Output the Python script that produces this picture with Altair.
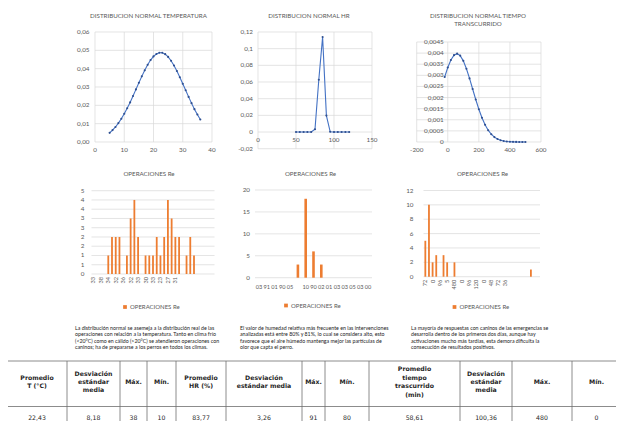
import altair as alt
import pandas as pd

# ------------------------------------------------------------------ data
temp_x = [5, 6, 7, 8, 9, 10, 11, 12, 13, 14, 15, 16, 17, 18, 19, 20,
          21, 22, 23, 24, 25, 26, 27, 28, 29, 30, 31, 32, 33, 34, 35, 36]
temp_y = [0.0050, 0.0065, 0.0082, 0.0103, 0.0127, 0.0154, 0.0184, 0.0216,
          0.0251, 0.0287, 0.0323, 0.0358, 0.0391, 0.0421, 0.0447, 0.0467,
          0.0480, 0.0487, 0.0487, 0.0479, 0.0464, 0.0443, 0.0417, 0.0387,
          0.0353, 0.0318, 0.0282, 0.0246, 0.0212, 0.0179, 0.0150, 0.0123]
temp_xticks = [0, 10, 20, 30, 40]
temp_xlabels = ["0", "10", "20", "30", "40"]
temp_yticks = [0, 0.01, 0.02, 0.03, 0.04, 0.05, 0.06]
temp_ylabels = ["0,00", "0,01", "0,02", "0,03", "0,04", "0,05", "0,06"]

hr_x = [50, 55, 60, 65, 70, 75, 80, 85, 90, 95, 100, 105, 110, 115, 120]
hr_y = [0.0, 0.0, 0.0, 0.0, 0.00002, 0.0033, 0.0627, 0.1140, 0.0197,
        0.0003, 0.0, 0.0, 0.0, 0.0, 0.0]
hr_xticks = [0, 50, 100, 150]
hr_xlabels = ["0", "50", "100", "150"]
hr_yticks = [-0.02, 0, 0.02, 0.04, 0.06, 0.08, 0.1, 0.12]
hr_ylabels = ["-0,02", "0", "0,02", "0,04", "0,06", "0,08", "0,1", "0,12"]

time_x = [-20, 0, 20, 40, 60, 80, 100, 120, 140, 160, 180, 200, 220, 240,
          260, 280, 300, 320, 340, 360, 380, 400, 420, 440, 460, 480, 500]
time_y = [0.002925, 0.003352, 0.003692, 0.003907, 0.003975, 0.003886,
          0.003651, 0.003297, 0.002861, 0.002386, 0.001913, 0.001473,
          0.001091, 0.000776, 0.000531, 0.000349, 0.000220, 0.000134,
          0.000078, 0.0000437, 0.0000236, 0.0000122, 0.0000061, 0.0000029,
          0.0000013, 0.0000006, 0.0000003]
time_xticks = [-200, 0, 200, 400, 600]
time_xlabels = ["-200", "0", "200", "400", "600"]
time_yticks = [0, 0.0005, 0.001, 0.0015, 0.002, 0.0025, 0.003, 0.0035, 0.004, 0.0045]
time_ylabels = ["0", "0,0005", "0,001", "0,0015", "0,002", "0,0025", "0,003",
                "0,0035", "0,004", "0,0045"]

ops_temp = [0, 0, 0, 0, 1, 2, 2, 2, 0, 1, 3, 4, 2, 0, 1, 1, 1, 2, 1, 2, 4,
            3, 2, 2, 0, 1, 2, 1, 0, 0, 0, 0, 0]
ops_temp_slots = [0, 2, 4, 6, 8, 10, 12, 14, 16, 18, 20, 22]
ops_temp_labels = ["33", "38", "34", "32", "36", "32", "33", "30", "33",
                   "23", "27", "31"]
ops_temp_yticks = [0, 0.5, 1, 1.5, 2, 2.5, 3, 3.5, 4, 4.5]
ops_temp_ylabels = ["0", "1", "1", "2", "2", "3", "3", "4", "4", "5"]

ops_hr = [0, 0, 0, 0, 0, 3, 18, 6, 3, 0, 0, 0, 0, 0, 0]
ops_hr_slots = [0, 1, 2, 3, 4, 5, 6, 7, 8, 9, 10, 11, 12, 13, 14]
ops_hr_labels = ["03", "91", "01", "90", "05", "", "10", "90", "02", "01",
                 "03", "03", "05", "03", "00"]
ops_hr_yticks = [0, 5, 10, 15, 20]
ops_hr_ylabels = ["0", "5", "10", "15", "20"]

ops_time = [5, 10, 2, 3, 0, 3, 2, 0, 2, 0, 0, 0, 0, 0, 0, 0, 0, 0, 0, 0,
            0, 0, 0, 0, 0, 0, 0, 0, 0, 1, 0, 0]
ops_time_slots = [0, 2, 4, 6, 8, 10, 12, 14, 16, 18, 20, 22]
ops_time_labels = ["72", "0", "96", "5", "480", "0", "96", "120", "0",
                   "48", "72", "36"]
ops_time_yticks = [0, 2, 4, 6, 8, 10, 12]
ops_time_ylabels = ["0", "2", "4", "6", "8", "10", "12"]

series_name = "OPERACIONES Re"
chart_titles = ["DISTRIBUCION NORMAL TEMPERATURA", "DISTRIBUCION NORMAL HR",
                "DISTRIBUCION NORMAL TIEMPO\nTRANSCURRIDO"]

paragraphs = [
    "La distribución normal se asemeja a la distribución real de las\n"
    "operaciones con relación a la temperatura. Tanto en clima frío\n"
    "(<20°C) como en cálido (>20°C) se atendieron operaciones con\n"
    "caninos; ha de  prepararse a los perros en todos los climas.",
    "El valor de humedad relativa más frecuente en las intervenciones\n"
    "analizadas está entre 80% y 81%, lo cual se considera alto, esto\n"
    "favorece que el aire húmedo mantenga mejor las partículas de\n"
    "olor que capta el perro.",
    "La mayoría de respuestas con caninos de las emergencias se\n"
    "desarrolla dentro de los primeros dos días, aunque hay\n"
    "activaciones mucho más tardías, esta demora dificulta la\n"
    "consecución de resultados positivos.",
]

table_headers = ["Promedio\nT (°C)", "Desviación\nestándar\nmedia", "Máx.", "Mín.",
                 "Promedio\nHR (%)", "Desviación\nestándar media", "Máx.", "Mín.",
                 "Promedio\ntiempo\ntrascurrido\n(min)", "Desviación\nestándar\nmedia",
                 "Máx.", "Mín."]
table_values = ["22,43", "8,18", "38", "10", "83,77", "3,26", "91", "80",
                "58,61", "100,36", "480", "0"]

# ------------------------------------------------------------------ layout / style
W, H = 608, 413
M = 8


def P(v):
    return v - M


FONT = "Lato"
TFONT = "DejaVu Sans"
GRID = "#D9D9D9"
LBL = "#595959"
BLUE = "#4472C4"
DOT = "#2F4F8F"
ORANGE = "#ED7D31"
LSIZE = 6.3


def lin(domain, r0, r1):
    return alt.Scale(domain=domain, range=[P(r0), P(r1)], nice=False, zero=False)


def ylabels(ticks, labels, sx, sy, at, dx):
    df = pd.DataFrame({"v": ticks, "t": labels})
    return alt.Chart(df).mark_text(font=FONT, fontSize=LSIZE, color=LBL, align="right",
                                   baseline="middle", dx=-dx).encode(
        y=alt.Y("v:Q", scale=sy, axis=None),
        x=alt.XDatum(at, type="quantitative", scale=sx, axis=None),
        text="t:N")


def xlabels(ticks, labels, sx, sy, at, dy, angle=0, size=LSIZE):
    df = pd.DataFrame({"v": ticks, "t": labels})
    if angle:
        mk = alt.Chart(df).mark_text(font=FONT, fontSize=size, color=LBL, align="right",
                                     baseline="middle", angle=angle, dx=-dy)
    else:
        mk = alt.Chart(df).mark_text(font=FONT, fontSize=size, color=LBL, align="center",
                                     baseline="top", dy=dy)
    return mk.encode(
        x=alt.X("v:Q", scale=sx, axis=None),
        y=alt.YDatum(at, type="quantitative", scale=sy, axis=None),
        text="t:N")


def text(t, x, y, size=6.3, color=LBL, font=FONT, weight="normal", align="center",
         baseline="middle", lh=None):
    mk = dict(font=font, fontSize=size, color=color, fontWeight=weight, align=align,
              baseline=baseline)
    if lh:
        mk["lineHeight"] = lh
        mk["lineBreak"] = "\n"
    return alt.Chart(pd.DataFrame({"t": [t]})).mark_text(**mk).encode(
        text="t:N", x=alt.value(P(x)), y=alt.value(P(y)))


def scatter_panel(xs, ys, xdom, xr, ydom, yr, xticks, xlabs, yticks, ylabs,
                  yl_at, ypad, xl_at, xpad):
    sx = lin(xdom, *xr)
    sy = lin(ydom, *yr)
    df = pd.DataFrame({"x": xs, "y": ys})
    hgrid = alt.Chart(pd.DataFrame({"v": yticks})).mark_rule(
        color=GRID, strokeWidth=0.7).encode(
        y=alt.Y("v:Q", scale=sy, axis=None),
        x=alt.XDatum(xdom[0], type="quantitative", scale=sx, axis=None),
        x2=alt.X2Datum(xdom[1]))
    vgrid = alt.Chart(pd.DataFrame({"v": xticks})).mark_rule(
        color=GRID, strokeWidth=0.7).encode(
        x=alt.X("v:Q", scale=sx, axis=None),
        y=alt.YDatum(ydom[0], type="quantitative", scale=sy, axis=None),
        y2=alt.Y2Datum(ydom[1]))
    line = alt.Chart(df).mark_line(color=BLUE, strokeWidth=1.1).encode(
        x=alt.X("x:Q", scale=sx, axis=None),
        y=alt.Y("y:Q", scale=sy, axis=None))
    pts = alt.Chart(df).mark_circle(color=DOT, size=4.5, opacity=1).encode(
        x=alt.X("x:Q", scale=sx, axis=None),
        y=alt.Y("y:Q", scale=sy, axis=None))
    return alt.layer(hgrid, vgrid, line, pts,
                     ylabels(yticks, ylabs, sx, sy, yl_at, ypad),
                     xlabels(xticks, xlabs, sx, sy, xl_at, xpad))


def bar_panel(vals, n, xr, ydom, yr, yticks, ylabs, ypad, lab_slots, labs,
              xpad, angle, bw, leg_x, leg_y):
    sx = lin([-0.5, n - 0.5], *xr)
    sy = lin(ydom, *yr)
    df = pd.DataFrame({"slot": list(range(n)), "v": vals, "serie": series_name})
    hgrid = alt.Chart(pd.DataFrame({"v": yticks})).mark_rule(
        color=GRID, strokeWidth=0.7).encode(
        y=alt.Y("v:Q", scale=sy, axis=None),
        x=alt.XDatum(-0.5, type="quantitative", scale=sx, axis=None),
        x2=alt.X2Datum(n - 0.5))
    bars = alt.Chart(df).mark_bar(size=bw).encode(
        x=alt.X("slot:Q", scale=sx, axis=None),
        y=alt.Y("v:Q", scale=sy, stack=None, axis=None),
        y2=alt.Y2Datum(0),
        color=alt.Color("serie:N", scale=alt.Scale(range=[ORANGE]),
                        legend=alt.Legend(orient="none", legendX=P(leg_x), legendY=P(leg_y),
                                          title=None, direction="horizontal",
                                          symbolType="square", symbolSize=14,
                                          symbolStrokeWidth=0, labelFont=FONT,
                                          labelFontSize=6, labelColor=LBL, padding=0,
                                          labelOffset=2)))
    return alt.layer(hgrid, bars,
                     ylabels(yticks, ylabs, sx, sy, -0.5, ypad),
                     xlabels(lab_slots, labs, sx, sy, ydom[0], xpad, angle, 5.6))


# ------------------------------------------------------------------ panels
p1 = scatter_panel(temp_x, temp_y, [0, 40], (95, 212), [0, 0.06], (142, 32),
                   temp_xticks, temp_xlabels, temp_yticks, temp_ylabels,
                   0, 5.5, 0, 5)
p2 = scatter_panel(hr_x, hr_y, [0, 150], (258, 372), [-0.02, 0.12], (148.7, 32),
                   hr_xticks, hr_xlabels, hr_yticks, hr_ylabels,
                   0, 5, 0, 5)
p3 = scatter_panel(time_x, time_y, [-200, 600], (416.7, 541), [0, 0.0045], (142, 42),
                   time_xticks, time_xlabels, time_yticks, time_ylabels,
                   0, 4, 0, 5)

b1 = bar_panel(ops_temp, 33, (86.5, 219.5), [0, 4.5], (274, 190.7),
               ops_temp_yticks, ops_temp_ylabels, 7,
               ops_temp_slots, ops_temp_labels, 3, 270, 1.8, 122, 304)
b2 = bar_panel(ops_hr, 15, (250, 377), [0, 20], (277.7, 190),
               ops_hr_yticks, ops_hr_ylabels, 5,
               ops_hr_slots, ops_hr_labels, 7, 0, 2.6, 283, 302.5)
b3 = bar_panel(ops_time, 32, (418.5, 545), [0, 12], (276.7, 190.5),
               ops_time_yticks, ops_time_ylabels, 10,
               ops_time_slots, ops_time_labels, 3, 270, 1.8, 451.5, 304)

# titles
titles = [
    text(chart_titles[0], 148.5, 15.7, size=6.2),
    text(chart_titles[1], 309, 15.5, size=6.2),
    text(chart_titles[2], 478, 16, size=6.2, lh=8),
    text(series_name, 149, 174, size=6.2),
    text(series_name, 310.5, 173.5, size=6.2),
    text(series_name, 482.5, 174, size=6.2),
]

PSIZE = 5.25
paras = [
    text(paragraphs[0], 75, 326, size=PSIZE, color="#222222", align="left", baseline="top", lh=6.4),
    text(paragraphs[1], 240, 326, size=PSIZE, color="#222222", align="left", baseline="top", lh=6.4),
    text(paragraphs[2], 411, 326, size=PSIZE, color="#222222", align="left", baseline="top", lh=6.4),
]

# table
edges = [7, 67, 120, 147, 176, 226, 302, 325, 369, 460, 512, 572, 621]
t_top, t_mid, t_bot = 361, 406.5, 425.5
HEAD_C, HEAD_LH = 382, 8.4
cells = pd.DataFrame({
    "h": table_headers,
    "v": table_values,
    "xc": [(edges[i] + edges[i + 1]) / 2 - M for i in range(12)],
})
cells["yh"] = [P(HEAD_C - h.count("\n") * HEAD_LH / 2) for h in table_headers]
TCOL = "#1f1f1f"
t_head = alt.Chart(cells).mark_text(font=TFONT, fontSize=6.2, fontWeight="bold", color=TCOL,
                                    lineBreak="\n", lineHeight=HEAD_LH, baseline="middle").encode(
    text="h:N", x=alt.X("xc:Q", scale=None), y=alt.Y("yh:Q", scale=None))
t_vals = alt.Chart(cells).mark_text(font=TFONT, fontSize=6.2, color=TCOL,
                                    baseline="middle").encode(
    text="v:N", x=alt.X("xc:Q", scale=None), y=alt.value(P(418)))
t_v = alt.Chart(pd.DataFrame({"e": [e - M for e in edges]})).mark_rule(
    color="#6e6e6e", strokeWidth=0.8).encode(
    x=alt.X("e:Q", scale=None), y=alt.value(P(t_top)), y2=alt.value(P(t_bot)))
t_h = alt.Chart(pd.DataFrame({"e": [t_top - M, t_mid - M, t_bot - M]})).mark_rule(
    color="#6e6e6e", strokeWidth=0.8).encode(
    y=alt.Y("e:Q", scale=None), x=alt.value(P(edges[0])), x2=alt.value(P(edges[-1])))

chart = alt.layer(p1, p2, p3, b1, b2, b3, *titles, *paras, t_v, t_h, t_head, t_vals).resolve_scale(
    x="independent", y="independent", color="independent").resolve_legend(
    color="independent").properties(
    width=W, height=H, autosize=alt.AutoSizeParams(type="none"), padding=0,
    background="white").configure_view(stroke=None)

chart.save("out.html", embed_options={"renderer": "svg", "actions": False})
